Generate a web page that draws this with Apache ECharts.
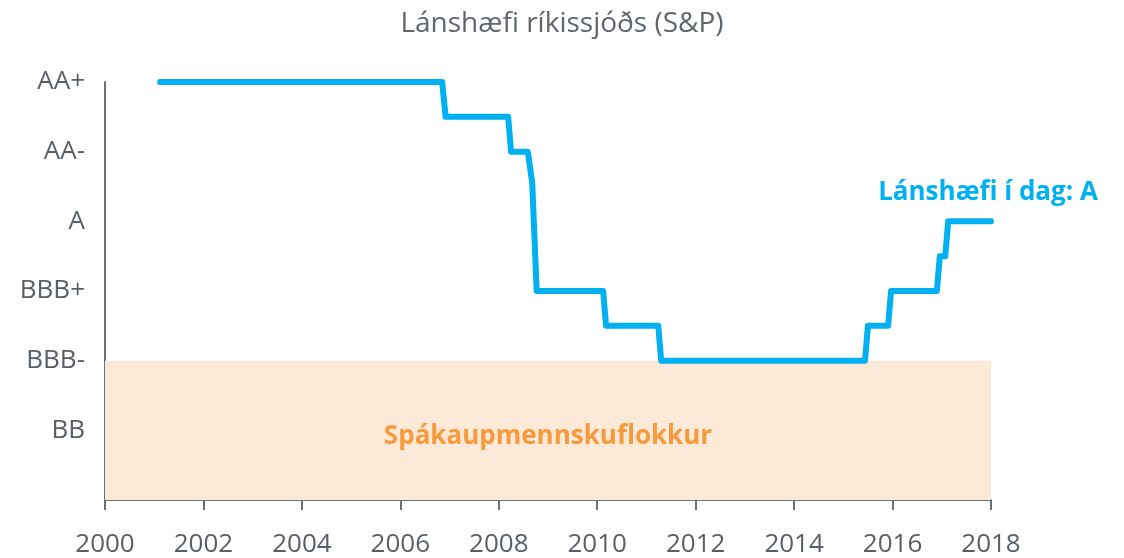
<!DOCTYPE html>
<html>
<head>
<meta charset="utf-8">
<script src="https://cdn.jsdelivr.net/npm/echarts@6/dist/echarts.min.js"></script>
<style>
  html, body { margin: 0; padding: 0; background: #fff; }
  #chart { width: 1124px; height: 558px; }
</style>
</head>
<body>
<div id="chart"></div>
<script>
// einkunnir, 0 = neðst á ás
const ratingNames = ["B+", "BB-", "BB", "BB+", "BBB-", "BBB", "BBB+", "A-", "A", "A+", "AA-", "AA", "AA+"];
const xTicks = [2000, 2002, 2004, 2006, 2008, 2010, 2012, 2014, 2016, 2018];

// [ár, einkunn]
const ratingPath = [
    [2001.12, 12], [2006.85, 12], [2006.92, 11],
    [2008.19, 11], [2008.25, 10],
    [2008.59, 10], [2008.68, 9.1], [2008.77, 6],
    [2010.12, 6], [2010.18, 5],
    [2011.24, 5], [2011.3, 4],
    [2015.44, 4], [2015.5, 5],
    [2015.91, 5], [2015.97, 6],
    [2016.9, 6], [2016.96, 7], [2017.07, 7], [2017.13, 8],
    [2018, 8]
];
const speculativeBand = [2000, 2018, 0, 4];
const todayLabel = "Lánshæfi í dag: A";
const bandLabel = "Spákaupmennskuflokkur";

const myChart = echarts.init(document.getElementById("chart"));
const gray = "#595f66";

const option = {
    animation: false,
    title: {
        text: "Lánshæfi ríkissjóðs (S&P)",
        left: "center",
        top: 5,
        textStyle: { fontFamily: "Open Sans", fontWeight: "normal", fontSize: 28, color: "#5f666d" }
    },
    grid: { left: 105, right: 133, top: 82, bottom: 56 },
    xAxis: {
        type: "value",
        min: xTicks[0],
        max: xTicks[xTicks.length - 1],
        interval: 2,
        axisLine: { lineStyle: { color: "#6a7279", width: 2 } },
        axisTick: { show: true, length: 10, lineStyle: { color: "#6a7279", width: 2 } },
        axisLabel: { color: gray, fontSize: 26, fontFamily: "Open Sans", margin: 32, formatter: v => String(v) },
        splitLine: { show: false }
    },
    yAxis: {
        type: "value",
        min: 0,
        max: 12,
        interval: 2,
        axisLine: { show: true, lineStyle: { color: "#6a7279", width: 2 } },
        axisTick: { show: false },
        splitLine: { show: false },
        axisLabel: {
            color: gray, fontSize: 26, fontFamily: "Open Sans", margin: 20,
            formatter: v => (v === 0 ? "" : ratingNames[v])
        }
    },
    series: [{
        type: "line",
        data: ratingPath,
        symbol: "none",
        lineStyle: { color: "#00b0f0", width: 6, join: "round", cap: "round" },
        markArea: {
            silent: true,
            itemStyle: { color: "#fde9d7" },
            label: {
                show: true,
                position: "inside",
                offset: [0, 6],
                color: "#f79a3e",
                fontSize: 26,
                fontWeight: "bold",
                fontFamily: "Open Sans"
            },
            data: [[
                { name: bandLabel, coord: [speculativeBand[0], speculativeBand[2]] },
                { coord: [speculativeBand[1], speculativeBand[3]] }
            ]]
        },
        markPoint: {
            silent: true,
            symbol: "circle",
            symbolSize: 0,
            label: {
                show: true,
                position: "inside",
                offset: [-3, 0],
                formatter: todayLabel,
                color: "#00b0f0",
                fontSize: 26,
                fontWeight: "bold",
                fontFamily: "Open Sans"
            },
            data: [{ coord: [2018, 8.83] }]
        },
        z: 3
    }]
};

option && myChart.setOption(option);
</script>
</body>
</html>
